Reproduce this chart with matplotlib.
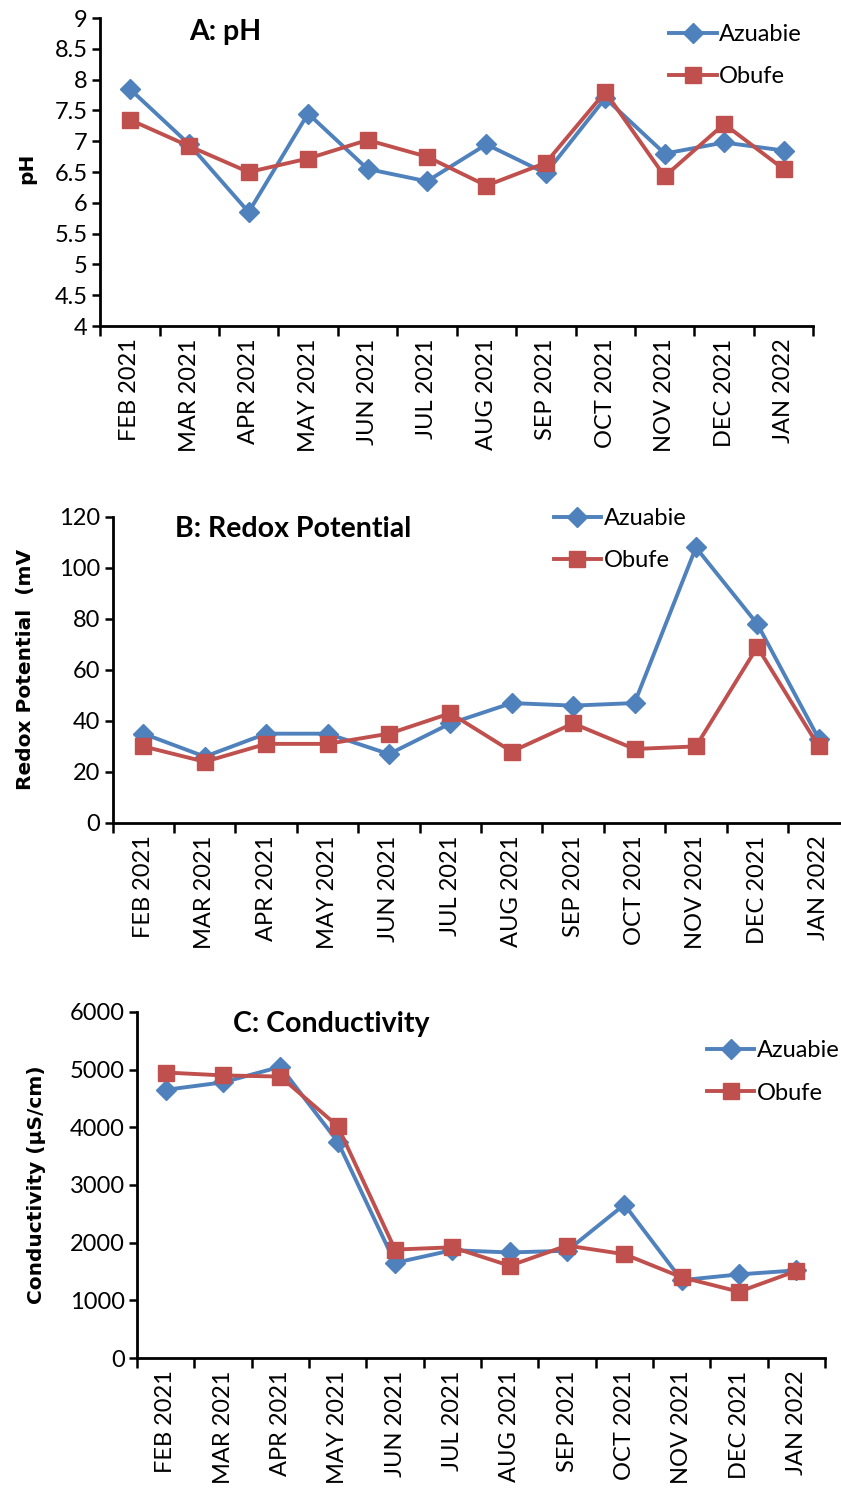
import matplotlib
matplotlib.use("Agg")
import matplotlib.pyplot as plt

# months on the x axis
months = ["FEB 2021", "MAR 2021", "APR 2021", "MAY 2021", "JUN 2021", "JUL 2021",
          "AUG 2021", "SEP 2021", "OCT 2021", "NOV 2021", "DEC 2021", "JAN 2022"]

# A: pH
ph_azuabie = [7.85, 6.95, 5.85, 7.45, 6.55, 6.35, 6.95, 6.48, 7.7, 6.8, 6.98, 6.85]
ph_obufe = [7.35, 6.92, 6.5, 6.72, 7.02, 6.75, 6.28, 6.65, 7.8, 6.43, 7.28, 6.55]

# B: redox potential (mV)
redox_azuabie = [35, 26, 35, 35, 27, 39, 47, 46, 47, 108, 78, 33]
redox_obufe = [30, 24, 31, 31, 35, 43, 28, 39, 29, 30, 69, 30]

# C: conductivity (uS/cm)
cond_azuabie = [4650, 4780, 5050, 3750, 1650, 1870, 1830, 1860, 2660, 1350, 1450, 1520]
cond_obufe = [4950, 4900, 4880, 4020, 1880, 1920, 1600, 1950, 1800, 1400, 1150, 1510]

BLUE = "#4F81BD"
RED = "#C0504D"
TICK_FONT = "Lato"

fig = plt.figure(figsize=(8.41, 14.93), dpi=100)


def draw_panel(rect, az, ob, title, title_xy, ylabel, ylim, yticks, leg_anchor):
    ax = fig.add_axes(rect)
    x = list(range(len(months)))
    ax.plot(x, az, color=BLUE, lw=2.8, marker="D", ms=10, label="Azuabie")
    ax.plot(x, ob, color=RED, lw=2.8, marker="s", ms=11, label="Obufe")
    ax.set_xlim(-0.5, len(months) - 0.5)
    ax.set_ylim(*ylim)
    ax.set_yticks(yticks)
    ax.set_yticklabels([f"{v:g}" for v in yticks], family=TICK_FONT, fontsize=17)
    # tick marks sit between the months, the labels under each month
    ax.set_xticks([i - 0.5 for i in range(len(months) + 1)])
    ax.set_xticklabels([])
    ax.set_xticks(x, minor=True)
    ax.set_xticklabels(months, minor=True, rotation=90, family=TICK_FONT, fontsize=17)
    ax.tick_params(axis="x", which="minor", length=0, pad=9)
    ax.tick_params(axis="x", which="major", length=7, width=1.8, direction="out")
    ax.tick_params(axis="y", length=6, width=1.8, direction="out", pad=3)
    for side in ["top", "right"]:
        ax.spines[side].set_visible(False)
    for side in ["left", "bottom"]:
        ax.spines[side].set_linewidth(2)
    ax.set_ylabel(ylabel, fontsize=14.5, fontweight="bold", family="DejaVu Sans", labelpad=4)
    ax.text(title_xy[0], title_xy[1], title, transform=ax.transAxes, fontsize=20.5,
            fontweight="bold", family=TICK_FONT, va="center", ha="left")
    ax.legend(loc="upper left", bbox_to_anchor=leg_anchor, frameon=False,
              prop={"family": TICK_FONT, "size": 17}, handlelength=2.0,
              handletextpad=0.1, labelspacing=0.9, borderaxespad=0)
    return ax


ax_a = draw_panel([0.119, 0.7816, 0.848, 0.2063], ph_azuabie, ph_obufe,
                  "A: pH", (0.125, 0.955), "pH", (4, 9),
                  [4, 4.5, 5, 5.5, 6, 6.5, 7, 7.5, 8, 8.5, 9], (0.785, 1.012))
ax_a.yaxis.set_label_coords(-0.09, 0.513)

ax_b = draw_panel([0.134, 0.4488, 0.876, 0.2050], redox_azuabie, redox_obufe,
                  "B: Redox Potential", (0.085, 0.96), "Redox Potential  (mV", (0, 120),
                  [0, 20, 40, 60, 80, 100, 120], (0.586, 1.06))
ax_b.yaxis.set_label_coords(-0.105, 0.5)

ax_c = draw_panel([0.163, 0.0904, 0.818, 0.2318], cond_azuabie, cond_obufe,
                  "C: Conductivity", (0.14, 0.965), "Conductivity (µS/cm)", (0, 6000),
                  [0, 1000, 2000, 3000, 4000, 5000, 6000], (0.815, 0.945))
ax_c.yaxis.set_label_coords(-0.133, 0.5)

fig.savefig("out.png", dpi=100)
